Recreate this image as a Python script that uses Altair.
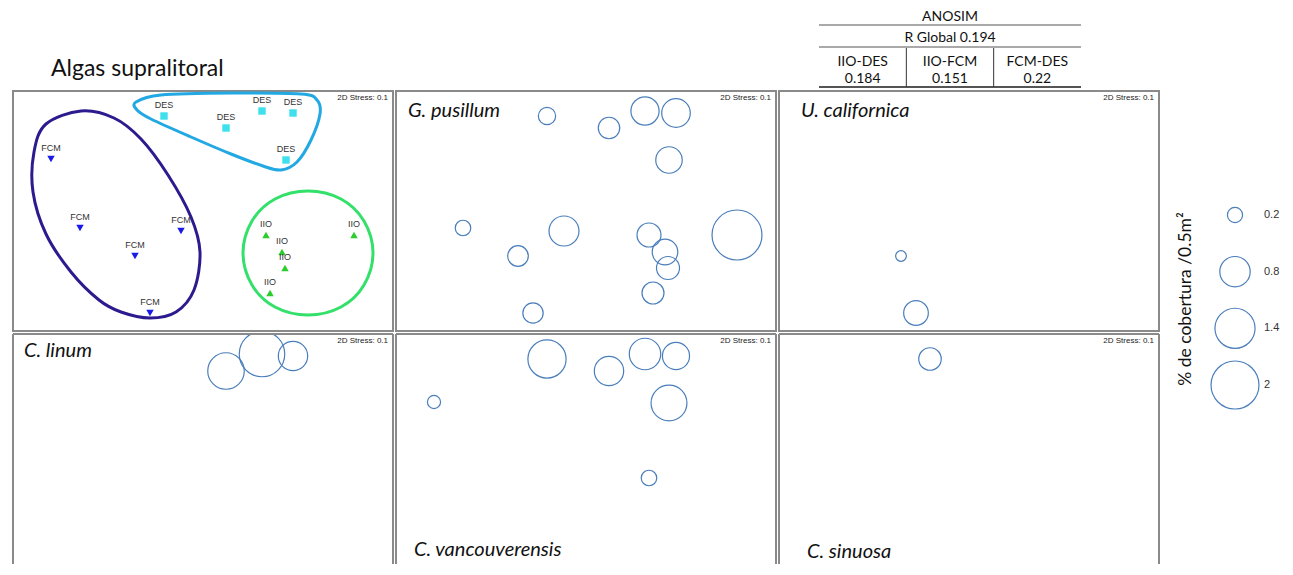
import altair as alt
import pandas as pd

# ---------------- data ----------------
sample_group = ["DES"] * 5 + ["FCM"] * 5 + ["IIO"] * 5
sample_x = [-0.39, 0.23, 0.59, 0.90, 0.83,
            -1.52, -1.23, -0.68, -0.22, -0.53,
            0.63, 0.79, 0.82, 0.67, 1.51]
sample_y = [0.94, 0.82, 0.99, 0.97, 0.50,
            0.51, -0.18, -0.46, -0.21, -1.03,
            -0.25, -0.42, -0.58, -0.83, -0.25]

# group outlines
hull_fcm_x = [-1.22, -0.89, -0.62, -0.35, -0.12, -0.03, -0.09, -0.27, -0.53, -0.82, -1.04, -1.32, -1.57, -1.70, -1.69, -1.57]
hull_fcm_y = [0.99, 0.92, 0.71, 0.35, -0.07, -0.42, -0.80, -1.02, -1.08, -1.02, -0.90, -0.62, -0.24, 0.18, 0.58, 0.86]
hull_des_x = [-0.67, -0.42, 0.28, 0.98, 1.14, 1.17, 1.08, 0.94, 0.78, 0.60, 0.28, -0.12, -0.52, -0.66]
hull_des_y = [1.08, 1.15, 1.17, 1.16, 1.10, 0.96, 0.70, 0.48, 0.40, 0.44, 0.56, 0.73, 0.91, 1.00]
hull_iio_x = [0.40, 0.49, 0.72, 1.05, 1.38, 1.61, 1.70, 1.61, 1.38, 1.05, 0.72, 0.49]
hull_iio_y = [-0.43, -0.11, 0.11, 0.19, 0.11, -0.11, -0.43, -0.75, -0.97, -1.05, -0.97, -0.75]

species_names = ["G. pusillum", "U. californica", "C. linum", "C. vancouverensis", "C. sinuosa"]
cover_g_pusillum = [0.26, 0.40, 0.69, 0.71, 0.61, 0, 0.21, 0.37, 0.78, 0.36, 0.50, 0.57, 0.46, 0.42, 2.17]
cover_u_californica = [0, 0, 0, 0, 0, 0, 0, 0.10, 0, 0.53, 0, 0, 0, 0, 0]
cover_c_linum = [0, 1.16, 1.80, 0.75, 0, 0, 0, 0, 0, 0, 0, 0, 0, 0, 0]
cover_c_vancouverensis = [1.27, 0.75, 0.86, 0.64, 1.12, 0.15, 0, 0, 0, 0, 0.21, 0, 0, 0, 0]
cover_c_sinuosa = [0.44, 0, 0, 0, 0, 0, 0, 0, 0, 0, 0, 0, 0, 0, 0]

legend_values = [0.2, 0.8, 1.4, 2.0]
legend_labels = ["0.2", "0.8", "1.4", "2"]

anosim_title = "ANOSIM"
r_global = 0.194
pair_labels = ["IIO-DES", "IIO-FCM", "FCM-DES"]
pair_r = [0.184, 0.151, 0.22]

# ---------------- styles / layout ----------------
PW = 380
H1 = 240
H2 = 230
HEADER_H = 80
FRAME = "#8a8a8a"
BUBBLE = "#4a7ebb"
groups = ["DES", "FCM", "IIO"]
marker_fill = ["#3fe0ee", "#1a1ae6", "#2ccc2c"]
marker_shape = ["square", "triangle-down", "triangle-up"]
hull_color = ["#22a8e2", "#2b1b8f", "#33e06a"]

xscale = alt.Scale(domain=[-1.90, 1.90])
def yscale(h):
    return alt.Scale(domain=[1.19 - h / 100.0, 1.19])
size_scale = alt.Scale(domain=[0, 2], range=[0, 2300], clamp=False)
dummy = pd.DataFrame({"d": [0]})
transparent = alt.ViewBackground(stroke="transparent")


def stress_layer():
    return alt.Chart(dummy).mark_text(
        text="2D Stress: 0.1", font="Liberation Sans", fontSize=8, color="#222",
        align="right", baseline="middle"
    ).encode(x=alt.value(PW - 5), y=alt.value(7))


def frame_layers(h):
    st = dict(color=FRAME, strokeWidth=2)
    left = alt.Chart(dummy).mark_rule(**st).encode(x=alt.value(0), y=alt.value(0), y2=alt.value(h))
    right = alt.Chart(dummy).mark_rule(**st).encode(x=alt.value(PW), y=alt.value(0), y2=alt.value(h))
    top = alt.Chart(dummy).mark_rule(**st).encode(x=alt.value(0), x2=alt.value(PW), y=alt.value(0))
    return [left, right, top]


def bubble_panel(name, covers, lx, ly, h, bottom):
    df = pd.DataFrame({"mx": sample_x, "my": sample_y, "cover": covers})
    df = df[df["cover"] > 0]
    bub = alt.Chart(df).mark_point(
        filled=False, shape="circle", color=BUBBLE, strokeWidth=1.2, opacity=1, clip=True
    ).encode(
        x=alt.X("mx:Q", scale=xscale, axis=None),
        y=alt.Y("my:Q", scale=yscale(h), axis=None),
        size=alt.Size("cover:Q", scale=size_scale, legend=None),
    )
    lab = alt.Chart(dummy).mark_text(
        text=name, font="Lato", fontStyle="italic", fontSize=20, color="#111",
        align="left", baseline="middle"
    ).encode(x=alt.value(lx), y=alt.value(ly))
    layers = [bub, lab, stress_layer()]
    if bottom:
        layers += frame_layers(h)
        return alt.layer(*layers).properties(width=PW, height=h, view=transparent)
    return alt.layer(*layers).properties(width=PW, height=h)


# ---------------- panel 1: samples ----------------
samples = pd.DataFrame({"mx": sample_x, "my": sample_y, "group": sample_group})
hulls = pd.concat([
    pd.DataFrame({"mx": hull_fcm_x, "my": hull_fcm_y, "hull": "FCM"}),
    pd.DataFrame({"mx": hull_des_x, "my": hull_des_y, "hull": "DES"}),
    pd.DataFrame({"mx": hull_iio_x, "my": hull_iio_y, "hull": "IIO"}),
])
hulls["ord"] = hulls.groupby("hull").cumcount()

hull_layer = alt.Chart(hulls).mark_line(
    interpolate="cardinal-closed", strokeWidth=3, strokeJoin="round"
).encode(
    x=alt.X("mx:Q", scale=xscale, axis=None),
    y=alt.Y("my:Q", scale=yscale(H1), axis=None),
    stroke=alt.Stroke("hull:N", scale=alt.Scale(domain=groups, range=hull_color), legend=None),
    detail="hull:N",
    order="ord:Q",
)
marker_layer = alt.Chart(samples).mark_point(filled=True, size=55, opacity=1).encode(
    x=alt.X("mx:Q", scale=xscale, axis=None),
    y=alt.Y("my:Q", scale=yscale(H1), axis=None),
    fill=alt.Fill("group:N", scale=alt.Scale(domain=groups, range=marker_fill), legend=None),
    shape=alt.Shape("group:N", scale=alt.Scale(domain=groups, range=marker_shape), legend=None),
)
label_layer = alt.Chart(samples).mark_text(
    font="Liberation Sans", fontSize=9, color="#333", dy=-11, baseline="middle"
).encode(
    x=alt.X("mx:Q", scale=xscale, axis=None),
    y=alt.Y("my:Q", scale=yscale(H1), axis=None),
    text="group:N",
)
panel1 = alt.layer(hull_layer, marker_layer, label_layer, stress_layer()).properties(width=PW, height=H1)

p2 = bubble_panel(species_names[0], cover_g_pusillum, 12, 20, H1, False)
p3 = bubble_panel(species_names[1], cover_u_californica, 22, 20, H1, False)
p4 = bubble_panel(species_names[2], cover_c_linum, 11, 17, H2, True)
p5 = bubble_panel(species_names[3], cover_c_vancouverensis, 18, 216, H2, True)
p6 = bubble_panel(species_names[4], cover_c_sinuosa, 28, 218, H2, True)

# ---------------- header: title and ANOSIM table ----------------
HW = 3 * PW + 2 * 3
tx = alt.Scale(domain=[-0.5, 2.5], range=[806, 1068])
title_layer = alt.Chart(dummy).mark_text(
    text="Algas supralitoral", font="Lato", fontSize=23, color="#111", align="left", baseline="middle"
).encode(x=alt.value(38), y=alt.value(60))

tfont = dict(font="Lato", fontSize=14, color="#111", baseline="middle", align="center")
t_title = alt.Chart(pd.DataFrame({"col": [1], "t": [anosim_title]})).mark_text(**tfont).encode(
    x=alt.X("col:Q", scale=tx, axis=None), y=alt.value(8), text="t:N")
t_global = alt.Chart(pd.DataFrame({"col": [1], "t": [f"R Global {r_global}"]})).mark_text(**tfont).encode(
    x=alt.X("col:Q", scale=tx, axis=None), y=alt.value(29), text="t:N")
pairs_df = pd.DataFrame({"col": [0, 1, 2], "pair": pair_labels, "r": [str(v) for v in pair_r]})
t_pairs = alt.Chart(pairs_df).mark_text(**tfont).encode(
    x=alt.X("col:Q", scale=tx, axis=None), y=alt.value(53), text="pair:N")
t_vals = alt.Chart(pairs_df).mark_text(**tfont).encode(
    x=alt.X("col:Q", scale=tx, axis=None), y=alt.value(70), text="r:N")
edges = pd.DataFrame({"a": [-0.5], "b": [2.5]})
hr = []
for yy, w in [(16, 1.2), (38, 1.2), (78, 2.0)]:
    hr.append(alt.Chart(edges).mark_rule(color="#555", strokeWidth=w).encode(
        x=alt.X("a:Q", scale=tx, axis=None), x2="b:Q", y=alt.value(yy)))
seps = alt.Chart(pd.DataFrame({"s": [0.5, 1.5]})).mark_rule(color="#333", strokeWidth=1).encode(
    x=alt.X("s:Q", scale=tx, axis=None), y=alt.value(39), y2=alt.value(78))
header = alt.layer(title_layer, *hr, seps, t_title, t_global, t_pairs, t_vals).properties(
    width=HW, height=HEADER_H, view=transparent)

# ---------------- legend ----------------
TOTAL_H = 540
leg_df = pd.DataFrame({"lv": legend_values, "lbl": legend_labels})
ly = alt.Scale(domain=[0.2, 2.0], range=[206, 376])
leg_circ = alt.Chart(leg_df).mark_point(filled=False, shape="circle", color=BUBBLE, strokeWidth=1.2, opacity=1).encode(
    x=alt.value(73), y=alt.Y("lv:Q", scale=ly, axis=None),
    size=alt.Size("lv:Q", scale=size_scale, legend=None))
leg_txt = alt.Chart(leg_df).mark_text(font="Liberation Sans", fontSize=11, color="#333", align="left", baseline="middle").encode(
    x=alt.value(102), y=alt.Y("lv:Q", scale=ly, axis=None), text="lbl:N")
leg_title = alt.Chart(dummy).mark_text(
    text="% de cobertura /0.5m²", font="Lato", fontSize=17.5, color="#111", angle=270,
    align="center", baseline="middle").encode(x=alt.value(24), y=alt.value(290))
legend = alt.layer(leg_circ, leg_txt, leg_title).properties(width=118, height=TOTAL_H, view=transparent)

row1 = alt.hconcat(panel1, p2, p3, spacing=3, bounds="flush").resolve_scale(x="independent", y="independent")
row2 = alt.hconcat(p4, p5, p6, spacing=3, bounds="flush").resolve_scale(x="independent", y="independent")
left = alt.vconcat(header, row1, row2, spacing=0).resolve_scale(x="independent", y="independent")
chart = alt.hconcat(left, legend, spacing=0).resolve_scale(
    x="independent", y="independent"
).properties(
    padding={"left": 3, "top": 0, "right": 0, "bottom": 0}
).configure_view(stroke=FRAME, strokeWidth=2)

chart.save("out.html", embed_options={"renderer": "svg", "actions": False})
